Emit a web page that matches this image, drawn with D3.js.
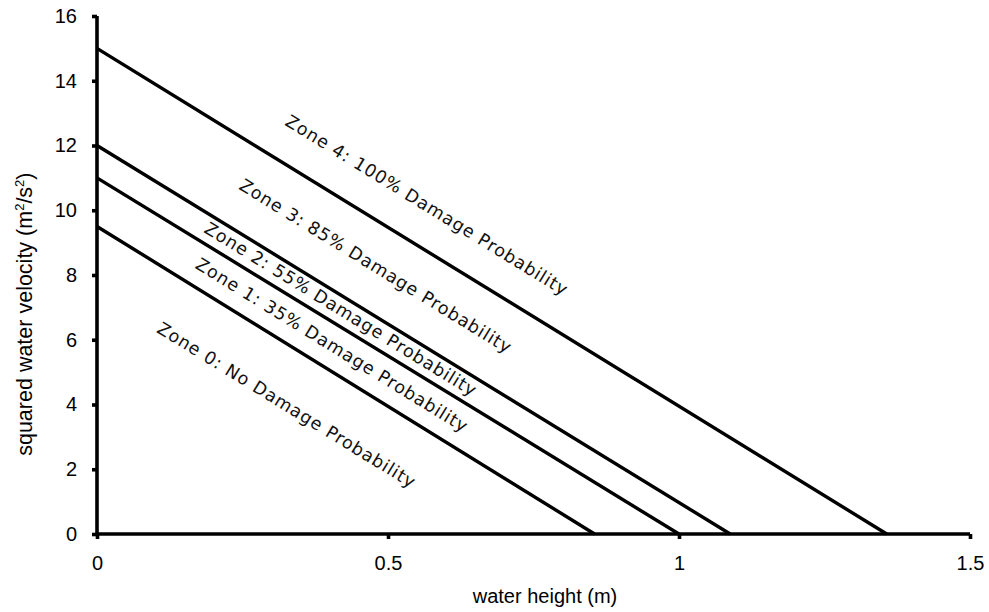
<!DOCTYPE html>
<html>
<head>
<meta charset="utf-8">
<script src="https://cdn.jsdelivr.net/npm/d3@7"></script>
<style>
  html, body { margin: 0; padding: 0; background: #fff; }
  svg { display: block; }
</style>
</head>
<body>
<svg id="chart" width="989" height="612"></svg>
<script>
// Damage zone boundaries: each line runs from (0, v²-intercept) to (h-intercept, 0)
const zoneNames = [
  "Zone 0: No Damage Probability",
  "Zone 1: 35% Damage Probability",
  "Zone 2: 55% Damage Probability",
  "Zone 3: 85% Damage Probability",
  "Zone 4: 100% Damage Probability"
];
const boundaryVelocitySq = [9.5, 11, 12, 15];      // m²/s² at water height 0
const boundaryHeight = [0.855, 1.0, 1.088, 1.357]; // m at squared velocity 0

const xTicks = [0, 0.5, 1, 1.5];
const xTickLabels = ["0", "0.5", "1", "1.5"];
const yTicks = [0, 2, 4, 6, 8, 10, 12, 14, 16];

// caption centre points (data units) for the zone labels
const labelAnchor = [
  [0.326, 3.98],
  [0.404, 5.83],
  [0.419, 6.94],
  [0.479, 8.27],
  [0.567, 10.15]
];

const svg = d3.select("#chart");
const margin = { left: 97, right: 19, top: 16, bottom: 78 };
const W = 989, H = 612;

const x = d3.scaleLinear().domain([0, 1.5]).range([margin.left, W - margin.right]);
const y = d3.scaleLinear().domain([0, 16]).range([H - margin.bottom, margin.top]);

const tickFont = "'Liberation Sans', Arial, sans-serif";
const stroke = 3.6;

// y axis
const yAxis = svg.append("g")
  .attr("transform", `translate(${x(0)},0)`)
  .call(d3.axisLeft(y).tickValues(yTicks).tickSize(5).tickPadding(15).tickFormat(d3.format("d")));
// x axis
const xAxis = svg.append("g")
  .attr("transform", `translate(0,${y(0)})`)
  .call(d3.axisBottom(x).tickValues(xTicks).tickSize(5).tickPadding(17)
    .tickFormat((d, i) => xTickLabels[i]));

yAxis.select(".domain").attr("d", `M0,${y(16)}V${y(0)}`);
xAxis.select(".domain").attr("d", `M${x(0)},0H${x(1.5)}`);
[yAxis, xAxis].forEach(g => {
  g.select(".domain").attr("stroke", "#000").attr("stroke-width", stroke);
  g.selectAll(".tick line").attr("stroke", "#000").attr("stroke-width", stroke);
  g.selectAll(".tick text").attr("fill", "#000")
    .style("font-family", tickFont).style("font-size", "20px");
});

// boundary lines
const line = d3.line().x(d => x(d[0])).y(d => y(d[1]));
svg.append("g").selectAll("path")
  .data(boundaryVelocitySq.map((v, i) => [[0, v], [boundaryHeight[i], 0]]))
  .join("path")
  .attr("d", line)
  .attr("fill", "none")
  .attr("stroke", "#000")
  .attr("stroke-width", 3.4)
  .attr("stroke-linecap", "butt");

// zone captions, rotated along the boundary slope
const angle = Math.atan2(y(0) - y(boundaryVelocitySq[3]), x(boundaryHeight[3]) - x(0)) * 180 / Math.PI;
svg.append("g").selectAll("text")
  .data(zoneNames)
  .join("text")
  .attr("transform", (d, i) => `translate(${x(labelAnchor[i][0])},${y(labelAnchor[i][1])}) rotate(${angle})`)
  .attr("text-anchor", "middle")
  .attr("dominant-baseline", "central")
  .style("font-family", "'DejaVu Sans', sans-serif")
  .style("font-size", "17.5px")
  .style("letter-spacing", "0.9px")
  .attr("fill", "#111")
  .text(d => d);

// axis titles
svg.append("text")
  .attr("x", 545)
  .attr("y", 603)
  .attr("text-anchor", "middle")
  .style("font-family", tickFont)
  .style("font-size", "20px")
  .text("water height (m)");

const yt = svg.append("text")
  .attr("transform", `translate(32,${y(7.1) + 10}) rotate(-90)`)
  .attr("text-anchor", "middle")
  .style("font-family", tickFont)
  .style("font-size", "21.5px");
yt.append("tspan").text("squared water velocity (m");
yt.append("tspan").attr("dy", -8).style("font-size", "13px").text("2");
yt.append("tspan").attr("dy", 8).text("/s");
yt.append("tspan").attr("dy", -8).style("font-size", "13px").text("2");
yt.append("tspan").attr("dy", 8).text(")");
</script>
</body>
</html>
